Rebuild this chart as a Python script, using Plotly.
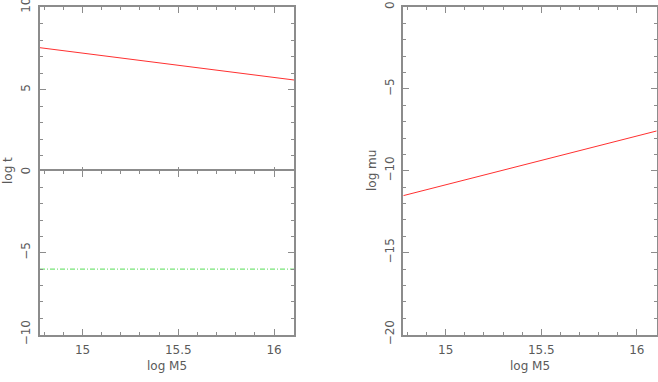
import plotly.graph_objects as go

# data
mass = [14.778, 16.104]
log_t = [7.54, 5.59]
log_t_low = [-6.0, -6.0]
log_mu = [-11.52, -7.57]

W, H = 658, 382
axis_col = "#8c8c8c"
text_col = "#5a5a5a"
font = dict(family="DejaVu Sans, sans-serif", size=12, color=text_col)

fig = go.Figure()
fig.add_trace(go.Scatter(x=mass, y=log_t, mode="lines", line=dict(color="#ff3030", width=1),
                         xaxis="x", yaxis="y", showlegend=False))
fig.add_trace(go.Scatter(x=mass, y=log_t_low, mode="lines",
                         line=dict(color="#55dd55", width=1, dash="5px,2px,1px,2px"),
                         xaxis="x2", yaxis="y2", showlegend=False))
fig.add_trace(go.Scatter(x=mass, y=log_mu, mode="lines", line=dict(color="#ff3030", width=1),
                         xaxis="x3", yaxis="y3", showlegend=False))

LW = 1.5
xleft = [40 / W, 294 / W]
xright = [403.3 / W, 656.7 / W]
ytop = 1 - 7 / H
ymid = 1 - 171 / H
ybot = 1 - 334.5 / H


def xax(dom, anchor, labels):
    return dict(domain=dom, anchor=anchor, range=[14.778, 16.104], showgrid=False, zeroline=False,
                automargin=False,
                showline=True, linecolor=axis_col, linewidth=LW, mirror="ticks",
                ticks="inside", ticklen=6, tickcolor=axis_col, tickwidth=1, dtick=0.5,
                showticklabels=labels, tickfont=font, ticklabelstandoff=3,
                minor=dict(ticks="inside", dtick=0.1, ticklen=3, tickcolor=axis_col, tickwidth=1))


def yax(dom, anchor, rng):
    return dict(domain=dom, anchor=anchor, range=rng, showgrid=False, zeroline=False,
                automargin=False, ticklabeloverflow="allow",
                showline=True, linecolor=axis_col, linewidth=LW, mirror="ticks",
                ticks="inside", ticklen=6, tickcolor=axis_col, tickwidth=1, dtick=5,
                tickangle=-90, tickfont=font, ticklabelstandoff=3,
                minor=dict(ticks="inside", dtick=1, ticklen=3, tickcolor=axis_col, tickwidth=1))


fig.update_layout(
    width=W, height=H,
    margin=dict(l=0, r=0, t=0, b=0),
    plot_bgcolor="white", paper_bgcolor="white",
    # top panel pulled down by one line width so the shared axis lines coincide
    xaxis=xax(xleft, "y", False),
    yaxis=yax([ymid - LW / H, ytop], "x", [0, 10]),
    xaxis2=xax(xleft, "y2", True),
    yaxis2=yax([ybot, ymid], "x2", [-10, 0]),
    xaxis3=xax(xright, "y3", True),
    yaxis3=yax([ybot, ytop], "x3", [-20, 0]),
)
fig.layout.yaxis2.tickvals = [-10, -5]

titles = [("log t", 8, 171, -90), ("log mu", 372, 171, -90),
          ("log M5", 167, 366, 0), ("log M5", 530, 366, 0)]
for txt, px, py, ang in titles:
    fig.add_annotation(text=txt, x=px / W, y=1 - py / H, xref="paper", yref="paper",
                       xanchor="center", yanchor="middle", textangle=ang,
                       showarrow=False, font=font)

fig.write_html("out.html", config={"displayModeBar": False},
               post_script="document.body.style.margin='0';")
